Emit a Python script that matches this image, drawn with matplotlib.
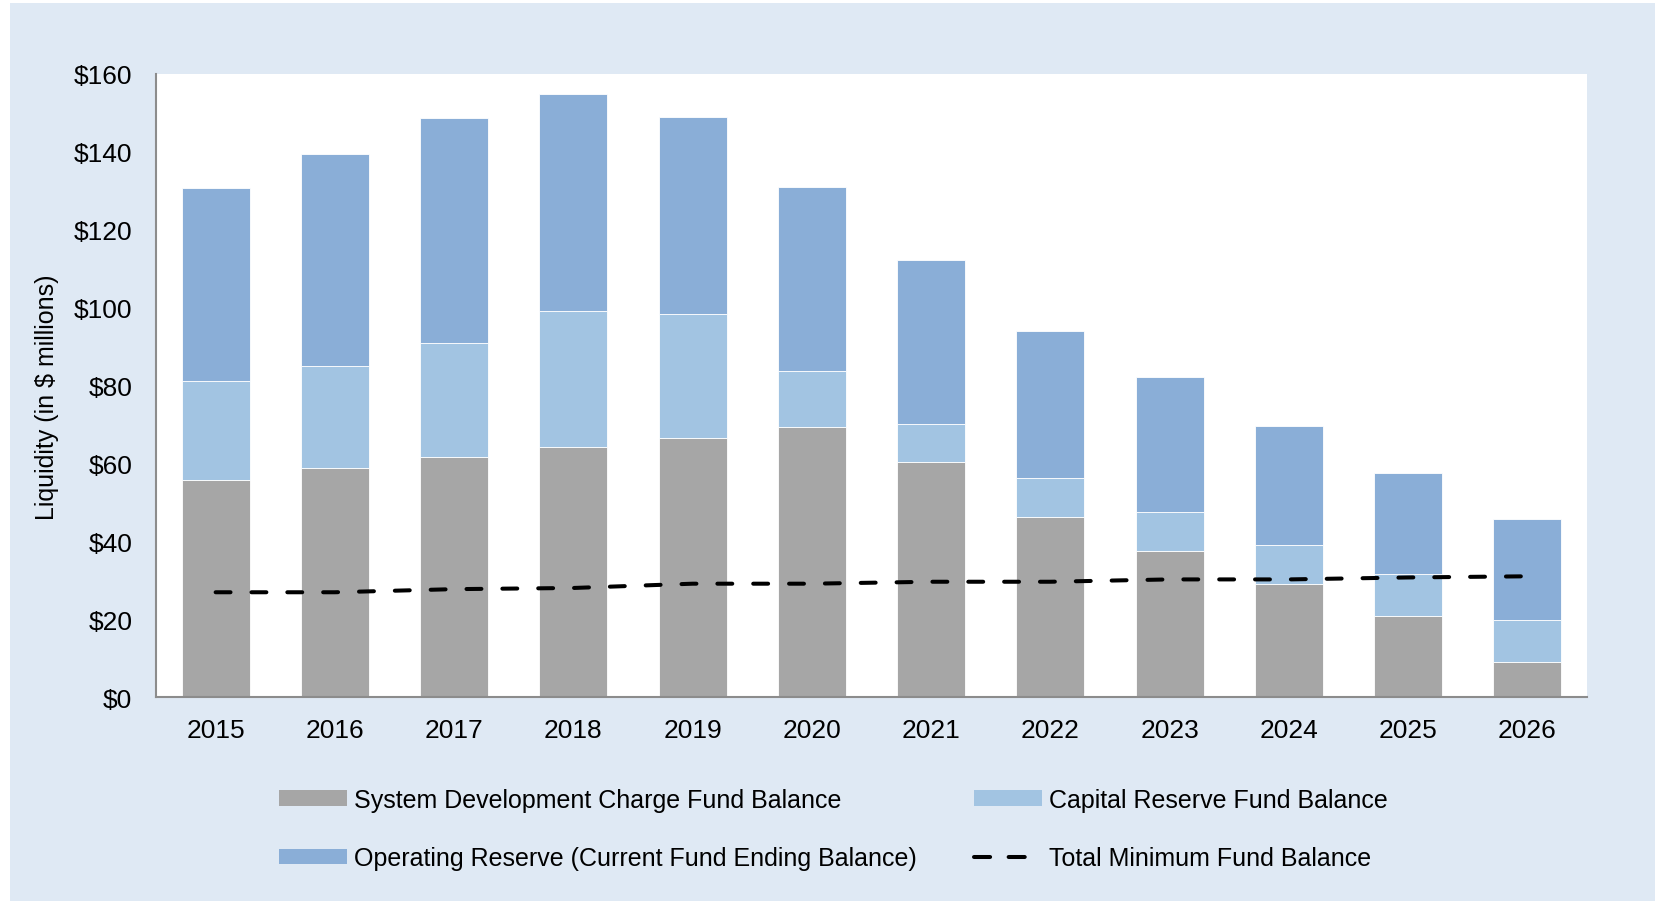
import matplotlib
matplotlib.use("Agg")
import matplotlib.pyplot as plt
from matplotlib.patches import Rectangle, Patch
from matplotlib.lines import Line2D
import numpy as np

years = ["2015", "2016", "2017", "2018", "2019", "2020", "2021", "2022", "2023", "2024", "2025", "2026"]
sdc = [55.7, 58.7, 61.7, 64.1, 66.6, 69.3, 60.3, 46.2, 37.5, 29.1, 20.9, 9.0]
capital_top = [81.2, 85.0, 90.8, 99.2, 98.4, 83.7, 70.1, 56.3, 47.6, 39.1, 31.5, 19.8]
total_top = [130.7, 139.4, 148.6, 154.9, 148.9, 131.0, 112.2, 94.0, 82.1, 69.6, 57.6, 45.7]
min_balance = [26.9, 26.9, 27.7, 28.0, 29.1, 29.1, 29.6, 29.6, 30.2, 30.2, 30.7, 31.0]

capital = [c - s for c, s in zip(capital_top, sdc)]
operating = [t - c for t, c in zip(total_top, capital_top)]

C_GRAY = "#A6A6A6"
C_LIGHT = "#A2C4E2"
C_DARK = "#8AAED7"
C_PANEL = "#DFE9F4"

plt.rcParams['font.family'] = ['Liberation Sans', 'DejaVu Sans']

W, H = 1657, 904
fig = plt.figure(figsize=(W / 100, H / 100), dpi=100)
fig.patch.set_facecolor("white")
fig.add_artist(Rectangle((10 / W, 2 / H), (1655 - 10) / W, (900 - 2) / H,
                         transform=fig.transFigure, facecolor=C_PANEL,
                         edgecolor="none", zorder=0))

ax = fig.add_axes([156 / W, 1 - 698 / H, (1587 - 156) / W, (698 - 75) / H])
ax.set_facecolor("white")
x = np.arange(len(years))
bw = 0.57
ax.bar(x, sdc, bw, color=C_GRAY, edgecolor="white", linewidth=0.6, zorder=2)
ax.bar(x, capital, bw, bottom=sdc, color=C_LIGHT, edgecolor="white", linewidth=0.6, zorder=2)
ax.bar(x, operating, bw, bottom=capital_top, color=C_DARK, edgecolor="white", linewidth=0.6, zorder=2)
LW = 2.9
dash = (0, (3.7, 5.2))
ax.plot(x, min_balance, color="black", linewidth=LW, linestyle=dash,
        dash_capstyle="round", zorder=3)

ax.set_xlim(-0.5, len(years) - 0.5)
ax.set_ylim(0, 160)
ax.set_yticks(range(0, 161, 20))
ax.set_yticklabels([f"${v}" for v in range(0, 161, 20)])
ax.set_xticks(x)
ax.set_xticklabels(years)
ax.tick_params(axis="both", length=0, labelsize=19, colors="black")
ax.tick_params(axis="y", pad=17)
ax.tick_params(axis="x", pad=15)
for s in ["top", "right"]:
    ax.spines[s].set_visible(False)
for s in ["left", "bottom"]:
    ax.spines[s].set_color("#8C8C8C")
    ax.spines[s].set_linewidth(1.5)
    ax.spines[s].set_zorder(4)

fig.text(47 / W, 1 - 397 / H, "Liquidity (in $ millions)", rotation=90,
         ha="center", va="center", fontsize=18)

leg_kw = dict(frameon=False, fontsize=18, handlelength=2.7, handleheight=0.6,
              handletextpad=0.3, labelspacing=1.38, borderpad=0, borderaxespad=0,
              loc="center left")

h1 = [Patch(facecolor=C_GRAY), Patch(facecolor=C_DARK)]
l1 = ["System Development Charge Fund Balance",
      "Operating Reserve (Current Fund Ending Balance)"]
leg1 = fig.legend(h1, l1, bbox_to_anchor=(279 / W, 1 - 830 / H), **leg_kw)

h2 = [Patch(facecolor=C_LIGHT),
      Line2D([0], [0], color="black", linewidth=LW, linestyle=(0, (4.0, 4.6)),
             dash_capstyle="round")]
l2 = ["Capital Reserve Fund Balance", "Total Minimum Fund Balance"]
leg2 = fig.legend(h2, l2, bbox_to_anchor=(974 / W, 1 - 830 / H), **leg_kw)

fig.savefig("out.png", dpi=100, facecolor=fig.get_facecolor())
